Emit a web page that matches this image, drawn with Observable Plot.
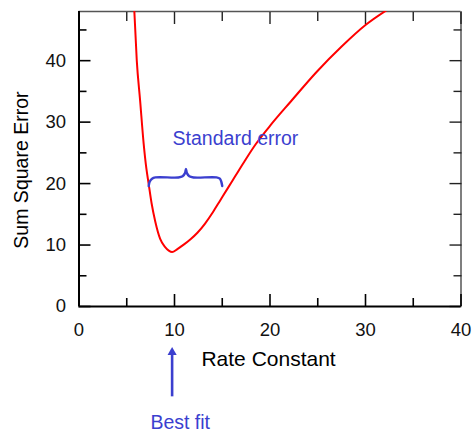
<!DOCTYPE html>
<html>
<head>
<meta charset="utf-8">
<script src="https://cdn.jsdelivr.net/npm/d3@7"></script>
<script src="https://cdn.jsdelivr.net/npm/@observablehq/plot@0.6"></script>
<style>
  html, body { margin: 0; padding: 0; background: #fff; }
  svg { display: block; }
</style>
</head>
<body>
<div id="chart"></div>
<script>
// Sum of squared errors as a function of the rate constant
const rateK = [5.78, 6.05, 6.4, 6.77, 7.05, 7.29, 7.6, 7.99, 8.5, 9.0, 9.4, 9.75,
               10.3, 11.0, 11.65, 12.4, 13.2, 14.0, 14.8, 15.6, 16.4, 17.4, 18.5, 20.0, 22.2, 24.9, 27.5, 30.0, 32.3];
const sse   = [48.5, 40.0, 33.5, 26.5, 22.5, 20.0, 16.8, 13.8, 11.0, 9.7, 9.1, 8.86,
               9.35, 10.1, 10.9, 12.0, 13.5, 15.3, 17.3, 19.3, 21.3, 23.8, 26.4, 29.4, 33.4, 38.2, 42.3, 45.8, 48.3];

// Curly brace spanning the standard error interval
const braceX = [7.3, 7.4, 7.65, 8.0, 10.4, 10.85, 11.1, 11.2, 11.3, 11.55, 12.0, 14.4, 14.75, 14.9, 15.0];
const braceY = [19.6, 20.3, 20.8, 21.0, 21.0, 21.2, 21.7, 22.4, 21.7, 21.2, 21.0, 21.0, 20.8, 20.3, 19.6];

// Axis ticks
const xMajor = [0, 10, 20, 30, 40];
const xMinor = [5, 15, 25, 35];
const yMajor = [0, 10, 20, 30, 40];
const yMinor = [5, 15, 25, 35, 45];

// Annotations
const bestFitK = 9.75;
const labelStdErr = {text: "Standard error", x: 9.8, y: 26.3};
const labelBest = {text: "Best fit", x: 10.6, y: -20.0};
const arrowTail = -14.7, arrowHead = -7.45;
const xTitle = {text: "Rate Constant", x: 19.85, y: -9.7};
const yTitle = {text: "Sum Square Error", x: -5.95, y: 22.2};

const curve = rateK.map((k, i) => ({k, e: sse[i]}));
const brace = braceX.map((x, i) => ({x, y: braceY[i]}));

const blue = "#3b3fcf";
const font = "'Liberation Sans', Arial, Helvetica, sans-serif";

const chart = Plot.plot({
  width: 473,
  height: 434,
  marginLeft: 78.5,
  marginRight: 12.5,
  marginTop: 11,
  marginBottom: 128,
  style: {fontFamily: font, background: "#fff", color: "#000", overflow: "visible"},
  x: {domain: [0, 40]},
  y: {domain: [0, 48]},
  marks: [
    // top and right frame edges
    Plot.ruleY([48], {stroke: "#555", strokeWidth: 1.5}),
    Plot.ruleX([40], {stroke: "#555", strokeWidth: 1.5}),
    // inward ticks on all four sides
    Plot.axisX({anchor: "top", ticks: xMajor, tickSize: -12, tickFormat: () => "", label: null, stroke: "#222", strokeWidth: 1.4}),
    Plot.axisX({anchor: "top", ticks: xMinor, tickSize: -9, tickFormat: () => "", label: null, stroke: "#222", strokeWidth: 1.4}),
    Plot.axisY({anchor: "right", ticks: yMajor, tickSize: -12, tickFormat: () => "", label: null, stroke: "#222", strokeWidth: 1.4}),
    Plot.axisY({anchor: "right", ticks: yMinor, tickSize: -8, tickFormat: () => "", label: null, stroke: "#222", strokeWidth: 1.4}),
    Plot.axisX({anchor: "bottom", ticks: xMajor, tickSize: -12, tickFormat: () => "", label: null, stroke: "#000", strokeWidth: 1.6}),
    Plot.axisX({anchor: "bottom", ticks: xMinor, tickSize: -8, tickFormat: () => "", label: null, stroke: "#000", strokeWidth: 1.6}),
    Plot.axisY({anchor: "left", ticks: yMajor, tickSize: -12, tickFormat: () => "", label: null, stroke: "#000", strokeWidth: 1.6}),
    Plot.axisY({anchor: "left", ticks: yMinor, tickSize: -8, tickFormat: () => "", label: null, stroke: "#000", strokeWidth: 1.6}),
    // tick labels
    Plot.axisX({anchor: "bottom", ticks: xMajor, tickSize: 0, tickPadding: 16, label: null, fontSize: 18.5, fill: "#111"}),
    Plot.axisY({anchor: "left", ticks: yMajor, tickSize: 0, tickPadding: 13, label: null, fontSize: 18.5, fill: "#111"}),
    // error curve
    Plot.line(curve, {x: "k", y: "e", stroke: "#ff0000", strokeWidth: 2, curve: "monotone-x", clip: true}),
    // brace and annotations
    Plot.line(brace, {x: "x", y: "y", stroke: blue, strokeWidth: 2.4, curve: "catmull-rom", strokeLinecap: "round"}),
    Plot.text([labelStdErr], {x: "x", y: "y", text: "text", fill: blue, fontSize: 19.5, textAnchor: "start", lineAnchor: "bottom"}),
    Plot.ruleX([bestFitK], {x: d => d, y1: arrowTail, y2: arrowHead, stroke: blue, strokeWidth: 2.6}),
    Plot.dot([bestFitK], {x: d => d, y: arrowHead, symbol: "triangle", r: 3.4, fill: blue, stroke: null}),
    Plot.text([labelBest], {x: "x", y: "y", text: "text", fill: blue, fontSize: 19.5, textAnchor: "middle", lineAnchor: "bottom"}),
    // axis titles
    Plot.text([xTitle], {x: "x", y: "y", text: "text", fill: "#000", fontSize: 21, textAnchor: "middle", lineAnchor: "bottom"}),
    Plot.text([yTitle], {x: "x", y: "y", text: "text", fill: "#000", fontSize: 19.5, textAnchor: "middle", lineAnchor: "middle", rotate: -90}),
    // left and bottom frame edges
    Plot.ruleX([0], {stroke: "#000", strokeWidth: 2}),
    Plot.ruleY([0], {stroke: "#000", strokeWidth: 2})
  ]
});

document.getElementById("chart").appendChild(chart);
</script>
</body>
</html>
